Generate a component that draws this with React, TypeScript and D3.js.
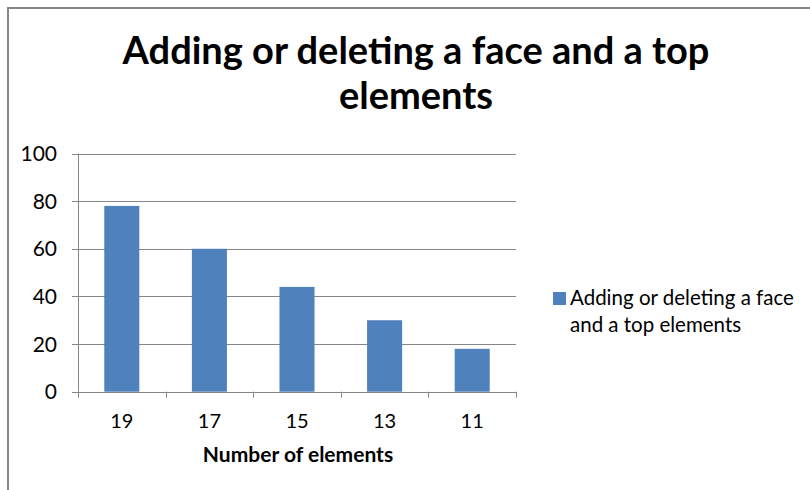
import React from "react";
import * as d3 from "d3";

const categories = ["19", "17", "15", "13", "11"];
const values = [78, 60, 44, 30, 18];
const yTicks = [0, 20, 40, 60, 80, 100];
const seriesName = "Adding or deleting a face and a top elements";
const titleLines = ["Adding or deleting a face and a top", "elements"];
const legendLines = ["Adding or deleting a face", "and a top elements"];
const xTitle = "Number of elements";

const W = 810;
const H = 490;
const plot = { left: 78, right: 516, top: 153.5, bottom: 391.7 };
const font = "Lato, 'Open Sans', sans-serif";

export default function App() {
  const x = d3
    .scaleBand<string>()
    .domain(categories)
    .range([plot.left, plot.right])
    .paddingInner(0.6)
    .paddingOuter(0.3);
  const band = d3.scaleBand<string>().domain(categories).range([plot.left, plot.right]);
  const y = d3.scaleLinear().domain([0, 100]).range([plot.bottom, plot.top]);
  const grid = "#868686";
  const catEdges = [...categories.map((c) => band(c) as number), plot.right];

  return (
    <svg
      width={W}
      height={H}
      style={{ position: "absolute", left: 0, top: 0, background: "#fff" }}
      fontFamily={font}
    >
      <rect x={0} y={0} width={W} height={H} fill="#fff" />
      <rect x={8} y={8} width={W + 50} height={H + 50} fill="#fff" stroke="#888" strokeWidth={2} />
      <text x={416} y={63.5} textAnchor="middle" fontSize={38} fontWeight={700} fill="#000">
        {titleLines[0]}
      </text>
      <text x={416} y={108.5} textAnchor="middle" fontSize={38} fontWeight={700} fill="#000">
        {titleLines[1]}
      </text>
      {yTicks.map((t) => (
        <g key={t}>
          <line
            x1={plot.left - 6}
            x2={plot.right}
            y1={Math.round(y(t)) + 0.5}
            y2={Math.round(y(t)) + 0.5}
            stroke={grid}
            strokeWidth={1}
          />
          <text x={57} y={y(t) + 7.5} textAnchor="end" fontSize={21} fill="#000">
            {t}
          </text>
        </g>
      ))}
      <line x1={plot.left + 0.5} x2={plot.left + 0.5} y1={plot.top} y2={plot.bottom} stroke={grid} />
      {catEdges.map((e, i) => (
        <line
          key={i}
          x1={Math.round(e) + 0.5}
          x2={Math.round(e) + 0.5}
          y1={plot.bottom}
          y2={plot.bottom + 6}
          stroke={grid}
        />
      ))}
      {categories.map((c, i) => (
        <rect
          key={c}
          x={x(c)}
          y={y(values[i])}
          width={x.bandwidth()}
          height={plot.bottom - y(values[i])}
          fill="#4F81BD"
        >
          <title>{seriesName}</title>
        </rect>
      ))}
      {categories.map((c) => (
        <text
          key={c}
          x={(band(c) as number) + band.bandwidth() / 2}
          y={428}
          textAnchor="middle"
          fontSize={20}
          fill="#000"
        >
          {c}
        </text>
      ))}
      <text x={298} y={462} textAnchor="middle" fontSize={21} fontWeight={700} fill="#000">
        {xTitle}
      </text>
      <rect x={553} y={292} width={13} height={13} fill="#4F81BD" />
      <text x={570} y={305} fontSize={20.5} fill="#000">
        {legendLines[0]}
      </text>
      <text x={570} y={332} fontSize={20.5} fill="#000">
        {legendLines[1]}
      </text>
    </svg>
  );
}
